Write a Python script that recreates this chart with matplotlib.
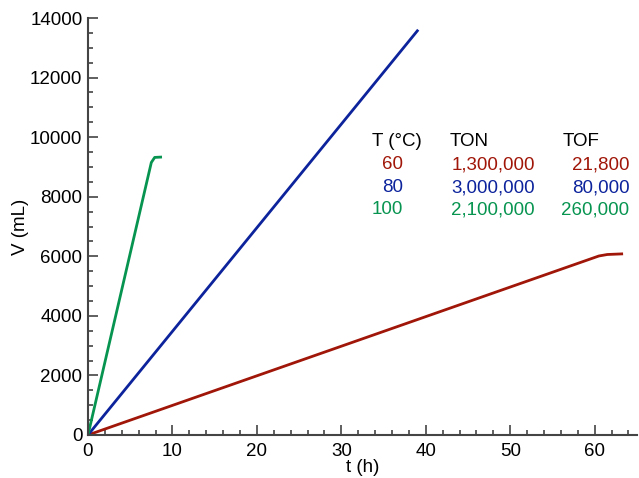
import matplotlib.pyplot as plt
from matplotlib.ticker import MultipleLocator

plt.rcParams['font.family'] = ['Liberation Sans', 'DejaVu Sans']

# curves (t in h, V in mL)
t_60 = [0, 60.5, 61.5, 63.2]
v_60 = [0, 6010, 6060, 6080]
t_80 = [0, 39.0]
v_80 = [0, 13570]
t_100 = [0, 7.5, 7.9, 8.6]
v_100 = [0, 9150, 9320, 9330]

temps = ['60', '80', '100']
ton = ['1,300,000', '3,000,000', '2,100,000']
tof = ['21,800', '80,000', '260,000']
colors = ['#a01608', '#0c239c', '#079450']

fig = plt.figure(figsize=(6.39, 4.78), dpi=100)
ax = fig.add_axes([0.1377, 0.09, 0.859, 0.8723])

ax.plot(t_60, v_60, color=colors[0], lw=2)
ax.plot(t_80, v_80, color=colors[1], lw=2)
ax.plot(t_100, v_100, color=colors[2], lw=2)

ax.set_xlim(0, 65)
ax.set_ylim(0, 14000)
ax.xaxis.set_major_locator(MultipleLocator(10))
ax.xaxis.set_minor_locator(MultipleLocator(2))
ax.yaxis.set_major_locator(MultipleLocator(2000))
ax.yaxis.set_minor_locator(MultipleLocator(500))
ax.tick_params(which='both', direction='in', colors='#444444', labelcolor='black',
               labelsize=13.5, width=1.2)
ax.tick_params(which='major', length=7)
ax.tick_params(which='minor', length=3.5)
ax.tick_params(axis='x', pad=6)
ax.tick_params(axis='y', pad=4)
for s in ['top', 'right']:
    ax.spines[s].set_visible(False)
for s in ['left', 'bottom']:
    ax.spines[s].set_color('#444444')
    ax.spines[s].set_linewidth(1.5)

ax.set_xlabel('t (h)', fontsize=13.5, labelpad=-1)
ax.set_ylabel('V (mL)', fontsize=13.5, labelpad=1)

# table of conditions
fs = 13.5
ax.text(33.6, 9840, 'T (°C)', fontsize=fs, va='center', ha='left')
ax.text(42.8, 9840, 'TON', fontsize=fs, va='center', ha='left')
ax.text(56.2, 9840, 'TOF', fontsize=fs, va='center', ha='left')
rows_y = [9070, 8300, 7560]
for i in range(3):
    ax.text(37.3, rows_y[i], temps[i], fontsize=fs, va='center', ha='right', color=colors[i])
    ax.text(52.9, rows_y[i], ton[i], fontsize=fs, va='center', ha='right', color=colors[i])
    ax.text(64.1, rows_y[i], tof[i], fontsize=fs, va='center', ha='right', color=colors[i])

fig.savefig('out.png', dpi=100)
